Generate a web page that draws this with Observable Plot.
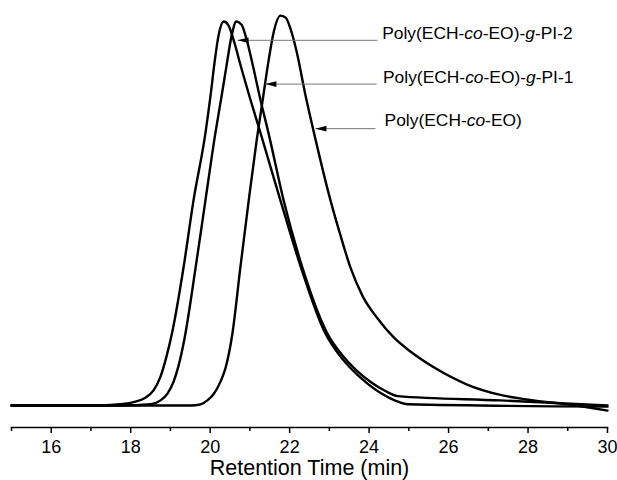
<!DOCTYPE html>
<html>
<head>
<meta charset="utf-8">
<script src="https://cdn.jsdelivr.net/npm/d3@7"></script>
<script src="https://cdn.jsdelivr.net/npm/@observablehq/plot@0.6"></script>
<style>
  html, body { margin: 0; padding: 0; background: #fff; }
  #chart { width: 617px; height: 480px; }
</style>
</head>
<body>
<div id="chart"></div>
<script>
// ---- Data ----
const seriesNames = ["Poly(ECH-co-EO)-g-PI-2", "Poly(ECH-co-EO)-g-PI-1", "Poly(ECH-co-EO)"];

const timePI2 = [15.0, 17.24, 17.74, 18.12, 18.37, 18.57, 18.75, 18.9, 19.05, 19.33, 19.58, 19.88, 20.01, 20.11, 20.21, 20.34, 20.46, 20.61, 20.76, 21.02, 21.27, 21.77, 22.27, 22.9, 23.28, 23.53, 23.96, 24.29, 24.67, 24.97, 30.0];
const intensityPI2 = [0, 0, 0.003, 0.010, 0.020, 0.038, 0.074, 0.125, 0.190, 0.353, 0.524, 0.696, 0.793, 0.877, 0.946, 0.982, 0.972, 0.928, 0.872, 0.780, 0.696, 0.524, 0.358, 0.184, 0.125, 0.096, 0.056, 0.032, 0.012, 0.003, -0.003];

const timePI1 = [15.0, 17.74, 18.5, 18.75, 18.93, 19.08, 19.2, 19.35, 19.63, 19.88, 20.13, 20.29, 20.41, 20.54, 20.66, 20.79, 20.91, 21.04, 21.27, 21.47, 21.85, 22.32, 22.95, 23.33, 23.66, 24.04, 24.41, 24.72, 27.31, 30.0];
const intensityPI1 = [0, 0, 0.003, 0.013, 0.031, 0.061, 0.100, 0.169, 0.350, 0.524, 0.696, 0.793, 0.868, 0.946, 0.982, 0.974, 0.939, 0.885, 0.780, 0.696, 0.524, 0.353, 0.184, 0.128, 0.092, 0.060, 0.037, 0.024, 0.013, 0];

const timeCopolymer = [15.0, 19.51, 19.76, 19.93, 20.08, 20.26, 20.39, 20.56, 20.76, 20.97, 21.17, 21.32, 21.47, 21.59, 21.77, 21.9, 22.02, 22.17, 22.4, 22.6, 23.03, 23.28, 23.53, 23.83, 24.21, 24.62, 25.04, 25.67, 26.48, 27.31, 28.14, 28.99, 30.0];
const intensityCopolymer = [0, 0, 0.003, 0.013, 0.028, 0.061, 0.097, 0.184, 0.353, 0.524, 0.678, 0.780, 0.882, 0.951, 0.997, 0.992, 0.964, 0.908, 0.793, 0.703, 0.524, 0.435, 0.353, 0.281, 0.223, 0.174, 0.138, 0.095, 0.053, 0.027, 0.013, 0.003, -0.013];

// annotation positions (data units)
const labelTimes = [24.33, 24.35, 24.39];
const labelIntensities = [0.951, 0.839, 0.729];
const arrowTailTimes = [24.21, 24.19, 24.16];
const arrowTipTimes = [20.69, 21.39, 22.65];
const arrowIntensities = [0.934, 0.822, 0.708];

const majorTicks = [16, 18, 20, 22, 24, 26, 28, 30];
const minorTicks = [15, 17, 19, 21, 23, 25, 27, 29];
const xDomain = [15, 30];
const yDomain = [-0.0563, 1.0358];
const xLabel = "Retention Time (min)";

// ---- Build tables ----
const curves = [
  ...timePI2.map((t, i) => ({series: seriesNames[0], t, v: intensityPI2[i]})),
  ...timePI1.map((t, i) => ({series: seriesNames[1], t, v: intensityPI1[i]})),
  ...timeCopolymer.map((t, i) => ({series: seriesNames[2], t, v: intensityCopolymer[i]}))
];
const notes = seriesNames.map((name, i) => ({
  name, lx: labelTimes[i], ly: labelIntensities[i],
  x1: arrowTailTimes[i], x2: arrowTipTimes[i], y: arrowIntensities[i]
}));

const headShape = {
  draw(context, l, r) {
    context.moveTo(0, -l);
    context.lineTo(r, 0);
    context.lineTo(-r, 0);
    context.closePath();
  }
};

const plot = Plot.plot({
  width: 617,
  height: 480,
  marginLeft: 11,
  marginRight: 10,
  marginTop: 0,
  marginBottom: 53,
  style: {fontFamily: "'Liberation Sans', Arial, sans-serif", fontSize: "18px", background: "#fff", color: "#000"},
  x: {domain: xDomain},
  y: {domain: yDomain, axis: null},
  marks: [
    Plot.frame({anchor: "bottom", strokeWidth: 1.5}),
    Plot.axisX(minorTicks, {tickSize: 4, tickFormat: () => "", strokeWidth: 1.5, label: null}),
    Plot.axisX(majorTicks, {tickSize: 6, tickPadding: 7, fontSize: 18, strokeWidth: 1.5, label: null}),
    Plot.text([xLabel], {frameAnchor: "bottom", dy: 41, fontSize: 21.5, lineAnchor: "middle"}),
    Plot.line(curves, {x: "t", y: "v", z: "series", stroke: "#000", strokeWidth: 2.4, curve: "monotone-x"}),
    Plot.link(notes, {x1: "x1", x2: "x2", y1: "y", y2: "y", stroke: "#777", strokeWidth: 1}),
    Plot.vector(notes, {x: "x2", y: "y", rotate: -90, length: 11, r: 2.8, anchor: "end", shape: headShape, fill: "#000", stroke: "none"}),
    Plot.text(notes, {x: "lx", y: "ly", text: "name", textAnchor: "start", fontSize: 17.4, fill: "#000"})
  ]
});

// italicize "co" and "g" in labels (kept as real text)
plot.querySelectorAll("text").forEach(el => {
  const s = el.textContent;
  if (!/-co-/.test(s)) return;
  const parts = s.split(/\b(co|g)\b/);
  el.textContent = "";
  parts.forEach((p, i) => {
    const ts = document.createElementNS("http://www.w3.org/2000/svg", "tspan");
    ts.textContent = p;
    if (i % 2 === 1) ts.setAttribute("font-style", "italic");
    el.appendChild(ts);
  });
});

document.getElementById("chart").appendChild(plot);
</script>
</body>
</html>
